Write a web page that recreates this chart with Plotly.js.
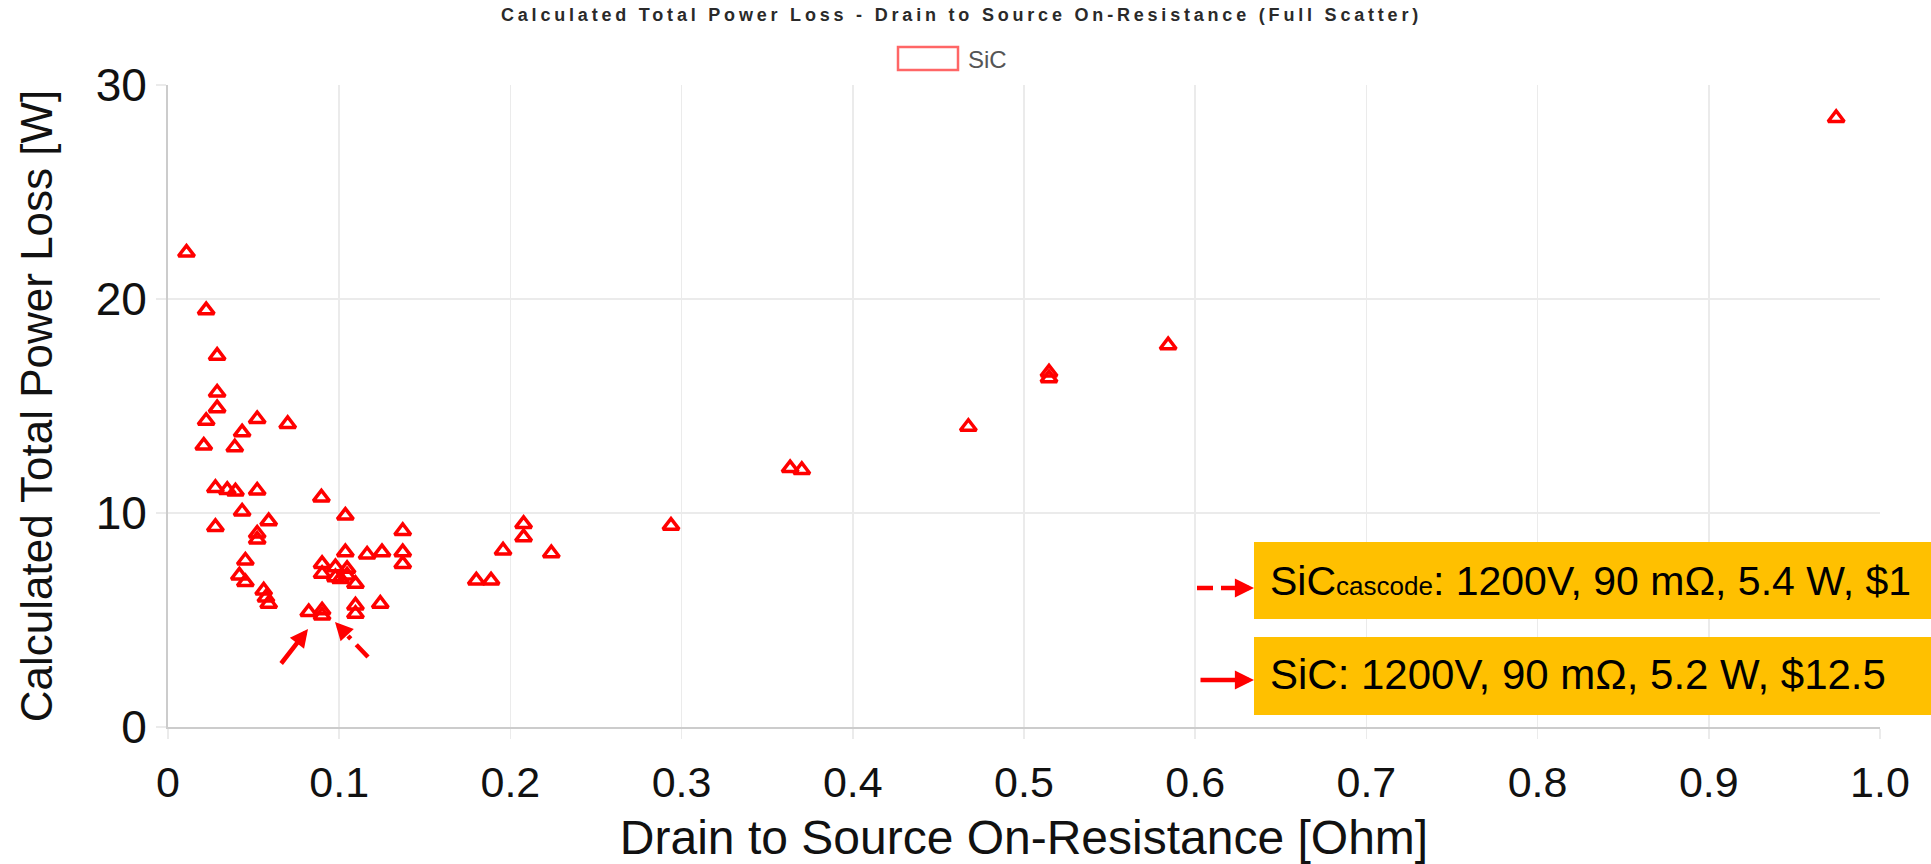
<!DOCTYPE html>
<html>
<head>
<meta charset="utf-8">
<script src="https://cdn.plot.ly/plotly-3.0.1.min.js"></script>
<style>
  html, body { margin: 0; padding: 0; background: #ffffff; }
  #chart { width: 1931px; height: 864px; }
</style>
</head>
<body>
<div id="chart"></div>
<script>
// ---- Data ----
const rdsOn = [
  0.0108, 0.0223, 0.0287, 0.0287, 0.0287, 0.0223, 0.0521, 0.0699, 0.0433, 0.0209,
  0.0390, 0.0277, 0.0346, 0.0394, 0.0521, 0.0896, 0.0433, 0.1036, 0.0277, 0.0588,
  0.0521, 0.0521, 0.1371, 0.1036, 0.1163, 0.1250, 0.1371, 0.1371, 0.0452, 0.0900,
  0.0900, 0.0978, 0.0978, 0.1007, 0.1046, 0.1046, 0.1095, 0.0417, 0.0452, 0.0559,
  0.0572, 0.0588, 0.0822, 0.0900, 0.0900, 0.1095, 0.1095, 0.1240, 0.1801, 0.1887,
  0.1957, 0.2077, 0.2077, 0.2239, 0.2938, 0.3634, 0.3702, 0.4675, 0.5146, 0.5146,
  0.5842, 0.9744
];
const powerLoss = [
  22.17, 19.48, 17.35, 15.63, 14.90, 14.31, 14.39, 14.16, 13.77, 13.15,
  13.07, 11.17, 11.08, 11.01, 11.05, 10.73, 10.07, 9.88, 9.35, 9.62,
  9.04, 8.76, 9.16, 8.17, 8.06, 8.17, 8.17, 7.62, 7.78, 7.62,
  7.16, 7.47, 7.00, 6.92, 7.39, 7.08, 6.69, 7.08, 6.77, 6.38,
  6.05, 5.76, 5.37, 5.45, 5.21, 5.68, 5.29, 5.76, 6.85, 6.85,
  8.25, 9.49, 8.87, 8.12, 9.41, 12.10, 12.01, 14.03, 16.57, 16.30,
  17.84, 28.46
];
const seriesName = "SiC";
const xTickVals = [0, 0.1, 0.2, 0.3, 0.4, 0.5, 0.6, 0.7, 0.8, 0.9, 1.0];
const xTickText = ["0", "0.1", "0.2", "0.3", "0.4", "0.5", "0.6", "0.7", "0.8", "0.9", "1.0"];
const yTickVals = [0, 10, 20, 30];
const yTickText = ["0", "10", "20", "30"];
const chartTitle = "Calculated Total Power Loss - Drain to Source On-Resistance (Full Scatter)";
const xTitle = "Drain to Source On-Resistance [Ohm]";
const yTitle = "Calculated Total Power Loss [W]";
const noteCascode = "SiC<span style=\"font-size:26px\">cascode</span>: 1200V, 90 mΩ, 5.4 W, $1";
const noteSiC = "SiC: 1200V, 90 mΩ, 5.2 W, $12.5";

// ---- Layout geometry (pixels) ----
const W = 1931, H = 864;
const M = { l: 168, r: 51, t: 85, b: 137 };
const PW = W - M.l - M.r, PH = H - M.t - M.b;
const XR = [0, 1], YR = [0, 30];
const px2x = p => XR[0] + (p - M.l) / PW * (XR[1] - XR[0]);
const py2y = p => YR[0] + (H - M.b - p) / PH * (YR[1] - YR[0]);
const px2pap = p => (p - M.l) / PW;
const py2pap = p => (H - M.b - p) / PH;

const FONT = "Liberation Sans, Arial, Helvetica, sans-serif";
const RED = "#ff0000";
const BOX = "#ffc000";
const GRID = "#ebebeb";

const trace = {
  type: "scatter",
  mode: "markers",
  name: seriesName,
  x: rdsOn,
  y: powerLoss,
  showlegend: false,
  hoverinfo: "x+y",
  marker: {
    symbol: "triangle-up-open",
    size: 14,
    color: RED,
    line: { color: RED, width: 3.5 }
  }
};

const shapes = [
  // legend box (Chart.js style)
  { type: "rect", xref: "paper", yref: "paper",
    x0: px2pap(898), x1: px2pap(958), y0: py2pap(47), y1: py2pap(70),
    line: { color: "rgba(255,0,0,0.6)", width: 2.5 }, fillcolor: "rgba(255,255,255,1)" },
  // callout boxes
  { type: "rect", xref: "paper", yref: "paper",
    x0: px2pap(1254), x1: px2pap(1940), y0: py2pap(619), y1: py2pap(542),
    line: { width: 0 }, fillcolor: BOX },
  { type: "rect", xref: "paper", yref: "paper",
    x0: px2pap(1254), x1: px2pap(1940), y0: py2pap(715), y1: py2pap(637),
    line: { width: 0 }, fillcolor: BOX },
  // dashed arrow bodies
  { type: "line", xref: "x", yref: "y",
    x0: px2x(368), y0: py2y(657), x1: px2x(348), y1: py2y(636),
    line: { color: RED, width: 4.5, dash: "17px,8px" } },
  { type: "line", xref: "paper", yref: "paper",
    x0: px2pap(1197), y0: py2pap(588), x1: px2pap(1238), y1: py2pap(588),
    line: { color: RED, width: 4.5, dash: "16px,8px" } }
];

const annotations = [
  { text: "<b><span style=\"letter-spacing:3.8px\">" + chartTitle + "</span></b>",
    xref: "paper", yref: "paper", x: px2pap(961), y: py2pap(15),
    xanchor: "center", yanchor: "middle", showarrow: false,
    font: { family: FONT, size: 18, color: "#2a2a2a" } },
  { text: seriesName, xref: "paper", yref: "paper", x: px2pap(966), y: py2pap(59),
    xanchor: "left", yanchor: "middle", showarrow: false,
    font: { family: FONT, size: 24, color: "#555555" } },
  { text: noteCascode, xref: "paper", yref: "paper", x: px2pap(1268), y: py2pap(581),
    xanchor: "left", yanchor: "middle", showarrow: false,
    font: { family: FONT, size: 41, color: "#000000" } },
  { text: noteSiC, xref: "paper", yref: "paper", x: px2pap(1268), y: py2pap(674),
    xanchor: "left", yanchor: "middle", showarrow: false,
    font: { family: FONT, size: 42, color: "#000000" } },
  // solid arrow in plot (points at SiC device)
  { text: "", xref: "x", yref: "y", x: px2x(308), y: py2y(629), ax: -28, ay: 36,
    showarrow: true, arrowhead: 2, arrowsize: 0.8, arrowwidth: 4.5, arrowcolor: RED },
  // dashed arrow head in plot (points at SiC cascode)
  { text: "", xref: "x", yref: "y", x: px2x(335), y: py2y(622), ax: 12, ay: 13,
    showarrow: true, arrowhead: 2, arrowsize: 0.8, arrowwidth: 4.5, arrowcolor: RED },
  // dashed arrow head to the cascode box
  { text: "", xref: "paper", yref: "paper", x: px2pap(1254), y: py2pap(588), ax: -18, ay: 0,
    showarrow: true, arrowhead: 2, arrowsize: 0.85, arrowwidth: 4.5, arrowcolor: RED },
  // solid arrow to the SiC box
  { text: "", xref: "paper", yref: "paper", x: px2pap(1254), y: py2pap(680), ax: -55, ay: 0,
    showarrow: true, arrowhead: 2, arrowsize: 0.85, arrowwidth: 4.5, arrowcolor: RED }
];

const layout = {
  width: W, height: H,
  margin: M,
  paper_bgcolor: "#ffffff",
  plot_bgcolor: "#ffffff",
  showlegend: false,
  font: { family: FONT, color: "#111111" },
  xaxis: {
    range: XR, tickmode: "array", tickvals: xTickVals, ticktext: xTickText,
    showgrid: true, gridcolor: GRID, gridwidth: 1.5,
    zeroline: false, showline: true, linecolor: "#cccccc", linewidth: 2,
    ticks: "outside", ticklen: 10, tickcolor: GRID, tickwidth: 1.5,
    ticklabelstandoff: 6,
    tickfont: { family: FONT, size: 43, color: "#111111" },
    title: { text: xTitle, standoff: 26, font: { family: FONT, size: 48, color: "#111111" } },
    automargin: false, fixedrange: true
  },
  yaxis: {
    range: YR, tickmode: "array", tickvals: yTickVals, ticktext: yTickText,
    showgrid: true, gridcolor: GRID, gridwidth: 1.5,
    zeroline: false, showline: true, linecolor: "#cccccc", linewidth: 2,
    ticks: "outside", ticklen: 10, tickcolor: GRID, tickwidth: 1.5,
    tickfont: { family: FONT, size: 46, color: "#111111" },
    title: { text: yTitle, standoff: 29, font: { family: FONT, size: 44, color: "#111111" } },
    automargin: false, fixedrange: true
  },
  shapes: shapes,
  annotations: annotations
};

Plotly.newPlot("chart", [trace], layout, { displayModeBar: false, staticPlot: true });
</script>
</body>
</html>
